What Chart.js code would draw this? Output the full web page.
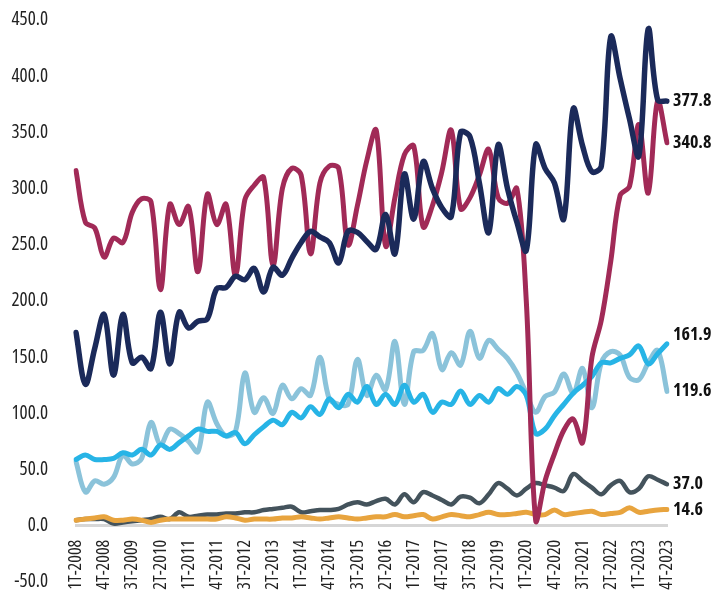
<!DOCTYPE html>
<html><head><meta charset="utf-8">
<script src="https://cdn.jsdelivr.net/npm/chart.js@4/dist/chart.umd.min.js"></script>
<style>html,body{margin:0;padding:0;background:#fff}#wrap{width:712px;height:592px;position:relative}</style>
</head><body><div id="wrap"><canvas id="c"></canvas></div>
<script>
const quarters = ["1T-2008","2T-2008","3T-2008","4T-2008","1T-2009","2T-2009","3T-2009","4T-2009",
"1T-2010","2T-2010","3T-2010","4T-2010","1T-2011","2T-2011","3T-2011","4T-2011",
"1T-2012","2T-2012","3T-2012","4T-2012","1T-2013","2T-2013","3T-2013","4T-2013",
"1T-2014","2T-2014","3T-2014","4T-2014","1T-2015","2T-2015","3T-2015","4T-2015",
"1T-2016","2T-2016","3T-2016","4T-2016","1T-2017","2T-2017","3T-2017","4T-2017",
"1T-2018","2T-2018","3T-2018","4T-2018","1T-2019","2T-2019","3T-2019","4T-2019",
"1T-2020","2T-2020","3T-2020","4T-2020","1T-2021","2T-2021","3T-2021","4T-2021",
"1T-2022","2T-2022","3T-2022","4T-2022","1T-2023","2T-2023","3T-2023","4T-2023"];

const navySeries = [172,126,158,188,134,188,145,150,140,190,144,190,176,182,184,211,
212,222,219,229,208,230,223,238,252,262,257,252,234,262,261,253,
246,277,242,313,273,324,300,283,275,350,346,305,261,339,300,270,
245,339,318,305,273,371,338,315,320,435,398,362,329,442,379,377.8];

const crimsonSeries = [316,270,265,239,256,252,279,291,288,210,286,268,284,226,295,268,
286,223,290,303,310,232,300,318,312,242,305,320,318,250,285,325,
352,249,292,330,338,266,285,315,352,282,292,312,335,292,287,300,
200,5,40,64,85,95,74,150,183,235,294,302,357,296,378,340.8];

const blueSeries = [59,63,59,59,60,65,63,68,63,72,68,74,80,86,84,84,
80,83,73,81,88,94,90,101,96,106,99,113,105,117,110,124,
108,117,108,125,110,117,101,110,108,120,108,116,110,122,117,124,
116,82,86,98,108,118,125,133,145,145,149,152,160,144,153,161.9];

const lightBlueSeries = [57,30,40,37,43,63,55,60,92,72,86,82,75,66,110,91,
80,84,136,101,114,100,125,113,122,116,150,113,108,108,148,116,
134,121,164,108,155,156,171,139,154,143,173,149,165,157,149,136,
118,101,115,119,135,118,140,105,145,155,152,132,130,145,156,119.6];

const graySeries = [5,6,6,6,2,3,4,5,6,8,6,12,8,9,10,10,
11,11,12,12,14,15,16,17,12,13,14,14,15,19,21,19,
22,24,19,28,21,30,27,23,19,26,25,20,28,38,33,27,
33,38,36,34,31,46,40,34,28,36,40,30,33,44,41,37.0];

const orangeSeries = [5,6,7,8,5,5,6,5,3,5,6,6,6,6,6,6,
8,7,5,6,6,6,7,7,8,7,6,7,8,7,6,7,
8,8,10,8,9,10,6,8,10,9,8,10,12,10,10,11,
12,10,10,14,10,11,12,13,10,11,12,16,12,13,14,14.6];

const FAMILY = "'Open Sans', 'DejaVu Sans Condensed', sans-serif";

const endLabels = {
  id: 'endLabels',
  afterDatasetsDraw(chart) {
    const ctx = chart.ctx;
    ctx.save();
    ctx.font = "bold condensed 18px " + FAMILY;
    ctx.fillStyle = '#111';
    ctx.textAlign = 'left';
    ctx.textBaseline = 'middle';
    chart.data.datasets.forEach((ds, i) => {
      const meta = chart.getDatasetMeta(i);
      const pt = meta.data[meta.data.length - 1];
      const v = ds.data[ds.data.length - 1];
      ctx.fillText(v.toFixed(1), pt.x + 6, pt.y + (ds.labelShift || 0));
    });
    ctx.restore();
  }
};

function ds(data, color, width, shift) {
  return { data, borderColor: color, borderWidth: width, pointRadius: 0, tension: 0.35,
           fill: false, labelShift: shift || 0, borderCapStyle: 'round', borderJoinStyle: 'round' };
}

new Chart(document.getElementById('c'), {
  type: 'line',
  data: {
    labels: quarters,
    datasets: [
      ds(navySeries, '#1b2a5a', 5.5),
      ds(crimsonSeries, '#a12a57', 5),
      ds(blueSeries, '#27b4e6', 5, -9),
      ds(lightBlueSeries, '#8bc3da', 5),
      ds(orangeSeries, '#e8a43e', 5),
      ds(graySeries, '#44535c', 4.5)
    ]
  },
  options: {
    responsive: true, maintainAspectRatio: false, animation: false,
    layout: { padding: { left: 3, right: 45, top: 20, bottom: 10 } },
    plugins: { legend: { display: false }, tooltip: { enabled: false } },
    scales: {
      x: {
        position: { y: 0 },
        grid: { display: false, drawTicks: false },
        border: { display: true, color: '#d6d6d6', width: 3 },
        ticks: {
          autoSkip: false, minRotation: 90, maxRotation: 90, padding: 14,
          color: '#222', font: { family: FAMILY, size: 18, weight: 'condensed' },
          callback: function (val, idx) { return idx % 3 === 0 ? this.getLabelForValue(val) : null; }
        },
        afterFit: s => { s.height = 0; }
      },
      y: {
        min: -50, max: 450,
        grid: { display: false, drawTicks: false },
        border: { display: false },
        ticks: { stepSize: 50, padding: 28, color: '#222', font: { family: FAMILY, size: 19, weight: 'condensed' },
                 callback: v => v.toFixed(1) },
        afterFit: s => { s.width = 73; s.paddingTop = 0; s.paddingBottom = 0; }
      }
    }
  },
  plugins: [endLabels]
});
</script></body></html>
